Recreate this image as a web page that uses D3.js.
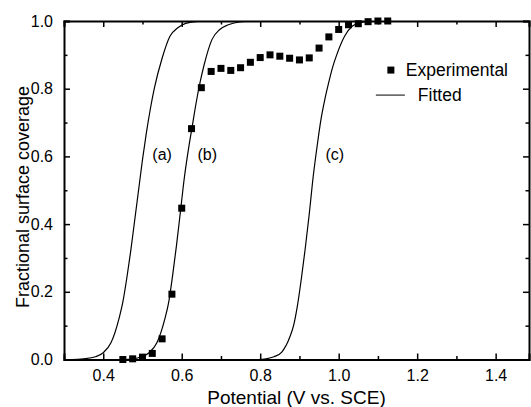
<!DOCTYPE html>
<html>
<head>
<meta charset="utf-8">
<script src="https://cdn.jsdelivr.net/npm/d3@7"></script>
<style>
  body { margin: 0; background: #fff; }
  text { font-family: "Liberation Sans", Arial, sans-serif; fill: #000; }
</style>
</head>
<body>
<div id="container"></div>
<script>
// experimental points
const expPotential = [0.45, 0.475, 0.50, 0.525, 0.55, 0.575, 0.60, 0.625, 0.65, 0.675,
  0.70, 0.725, 0.75, 0.775, 0.80, 0.825, 0.85, 0.875, 0.90, 0.925,
  0.95, 0.975, 1.00, 1.025, 1.05, 1.075, 1.10, 1.125]
const expCoverage = [0.0, 0.002, 0.007, 0.018, 0.061, 0.193, 0.447, 0.682, 0.803, 0.851,
  0.860, 0.854, 0.862, 0.878, 0.892, 0.900, 0.896, 0.890, 0.885, 0.891,
  0.920, 0.953, 0.975, 0.989, 0.992, 0.998, 1.0, 1.0]

// fitted curves
const fitA_x = [0.30, 0.32, 0.35, 0.38, 0.40, 0.42, 0.44, 0.45, 0.46, 0.47, 0.48, 0.49, 0.50, 0.51, 0.52, 0.53, 0.55, 0.57, 0.59, 0.61, 0.64, 0.68, 0.75]
const fitA_y = [0.0, 0.0, 0.002, 0.008, 0.02, 0.05, 0.12, 0.17, 0.24, 0.32, 0.41, 0.50, 0.59, 0.67, 0.74, 0.80, 0.89, 0.955, 0.98, 0.993, 0.999, 1.0, 1.0]
const fitB_x = [0.42, 0.45, 0.477, 0.497, 0.517, 0.537, 0.547, 0.557, 0.567, 0.577, 0.587, 0.597, 0.607, 0.617, 0.627, 0.637, 0.647, 0.657, 0.677, 0.697, 0.717, 0.747, 0.787, 0.85]
const fitB_y = [0.0, 0.0, 0.002, 0.008, 0.02, 0.05, 0.08, 0.12, 0.17, 0.25, 0.34, 0.44, 0.54, 0.62, 0.69, 0.76, 0.82, 0.87, 0.945, 0.975, 0.988, 0.997, 1.0, 1.0]
const fitC_x = [0.775, 0.795, 0.815, 0.835, 0.855, 0.875, 0.885, 0.895, 0.905, 0.915, 0.925, 0.935, 0.945, 0.955, 0.965, 0.975, 0.985, 0.995, 1.015, 1.035, 1.055, 1.085, 1.15]
const fitC_y = [0.0, 0.0, 0.002, 0.008, 0.022, 0.065, 0.10, 0.16, 0.24, 0.33, 0.43, 0.54, 0.63, 0.71, 0.77, 0.82, 0.865, 0.90, 0.955, 0.985, 0.995, 1.0, 1.0]

const curveLabels = [
  { text: '(a)', x: 0.55, y: 0.605 },
  { text: '(b)', x: 0.665, y: 0.605 },
  { text: '(c)', x: 0.99, y: 0.605 }
]

const xTicks = [0.4, 0.6, 0.8, 1.0, 1.2, 1.4]
const xMinor = [0.3, 0.5, 0.7, 0.9, 1.1, 1.3]
const yTicks = [0.0, 0.2, 0.4, 0.6, 0.8, 1.0]
const yMinor = [0.1, 0.3, 0.5, 0.7, 0.9]

const margin = { top: 21, right: 2, bottom: 47.5, left: 64 },
  width = 531 - margin.left - margin.right,
  height = 407 - margin.top - margin.bottom

const svg = d3.select('#container').append('svg')
  .attr('width', 531)
  .attr('height', 407)

const chart = svg.append('g')
  .attr('transform', `translate(${margin.left},${margin.top})`)

// the frame stops a little short of 1.5 in the original
const x = d3.scaleLinear().domain([0.3, 1.485]).range([0, width])
const y = d3.scaleLinear().domain([0, 1]).range([height, 0])

chart.append('clipPath').attr('id', 'clip')
  .append('rect').attr('width', width).attr('height', height)

// fitted lines
const line = d3.line()
  .x(d => x(d[0]))
  .y(d => y(d[1]))
  .curve(d3.curveMonotoneX)

const fits = [[fitA_x, fitA_y], [fitB_x, fitB_y], [fitC_x, fitC_y]]
fits.forEach(f => {
  chart.append('path')
    .datum(f[0].map((v, i) => [v, f[1][i]]))
    .attr('clip-path', 'url(#clip)')
    .attr('fill', 'none')
    .attr('stroke', '#000')
    .attr('stroke-width', 1.2)
    .attr('d', line)
})

// experimental squares
const sq = 7
chart.append('g')
  .selectAll('rect')
  .data(expPotential)
  .enter().append('rect')
  .attr('x', (d) => x(d) - sq / 2)
  .attr('y', (d, i) => y(expCoverage[i]) - sq / 2)
  .attr('width', sq)
  .attr('height', sq)
  .attr('fill', '#000')

// axes, ticks inward on all four sides
function drawAxis(axisFn, scale, major, minor, transform, labels, pad) {
  const g = chart.append('g').attr('transform', transform)
  g.call(axisFn(scale).tickValues(major).tickSize(-6).tickPadding(pad)
    .tickFormat(labels ? d3.format('.1f') : ''))
  g.append('g').call(axisFn(scale).tickValues(minor).tickSize(-3.5).tickFormat(''))
    .select('.domain').remove()
  g.selectAll('.tick line').attr('stroke-width', 1.5)
  g.selectAll('.domain').attr('stroke-width', 2)
  g.selectAll('text').attr('font-size', 16).attr('fill', '#000')
    .style('font-family', '"Liberation Sans", Arial, sans-serif')
  return g
}

drawAxis(d3.axisBottom, x, xTicks, xMinor, `translate(0,${height})`, true, 10)
drawAxis(d3.axisTop, x, xTicks, xMinor, 'translate(0,0)', false, 3)
drawAxis(d3.axisLeft, y, yTicks, yMinor, 'translate(0,0)', true, 11)
drawAxis(d3.axisRight, y, yTicks, yMinor, `translate(${width},0)`, false, 3)

// curve labels
chart.append('g').selectAll('text')
  .data(curveLabels)
  .enter().append('text')
  .attr('x', d => x(d.x))
  .attr('y', d => y(d.y))
  .attr('text-anchor', 'middle')
  .attr('dy', '0.35em')
  .attr('font-size', 16)
  .text(d => d.text)

// legend
const legend = chart.append('g').attr('transform', `translate(${x(1.133)},${y(0.855)})`)
legend.append('rect')
  .attr('x', -sq / 2).attr('y', -sq / 2)
  .attr('width', sq).attr('height', sq)
  .attr('fill', '#000')
legend.append('text')
  .attr('x', 15).attr('dy', '0.35em')
  .attr('font-size', 17.5)
  .text('Experimental')
legend.append('line')
  .attr('x1', -15).attr('x2', 14)
  .attr('y1', 25).attr('y2', 25)
  .attr('stroke', '#000').attr('stroke-width', 1)
legend.append('text')
  .attr('x', 27).attr('y', 25).attr('dy', '0.35em')
  .attr('font-size', 17.5)
  .text('Fitted')

// axis titles
svg.append('text')
  .attr('x', margin.left + width / 2)
  .attr('y', 404)
  .attr('text-anchor', 'middle')
  .attr('font-size', 19)
  .text('Potential (V vs. SCE)')

svg.append('text')
  .attr('transform', `translate(29,197) rotate(-90)`)
  .attr('text-anchor', 'middle')
  .attr('font-size', 18)
  .text('Fractional surface coverage')
</script>
</body>
</html>
